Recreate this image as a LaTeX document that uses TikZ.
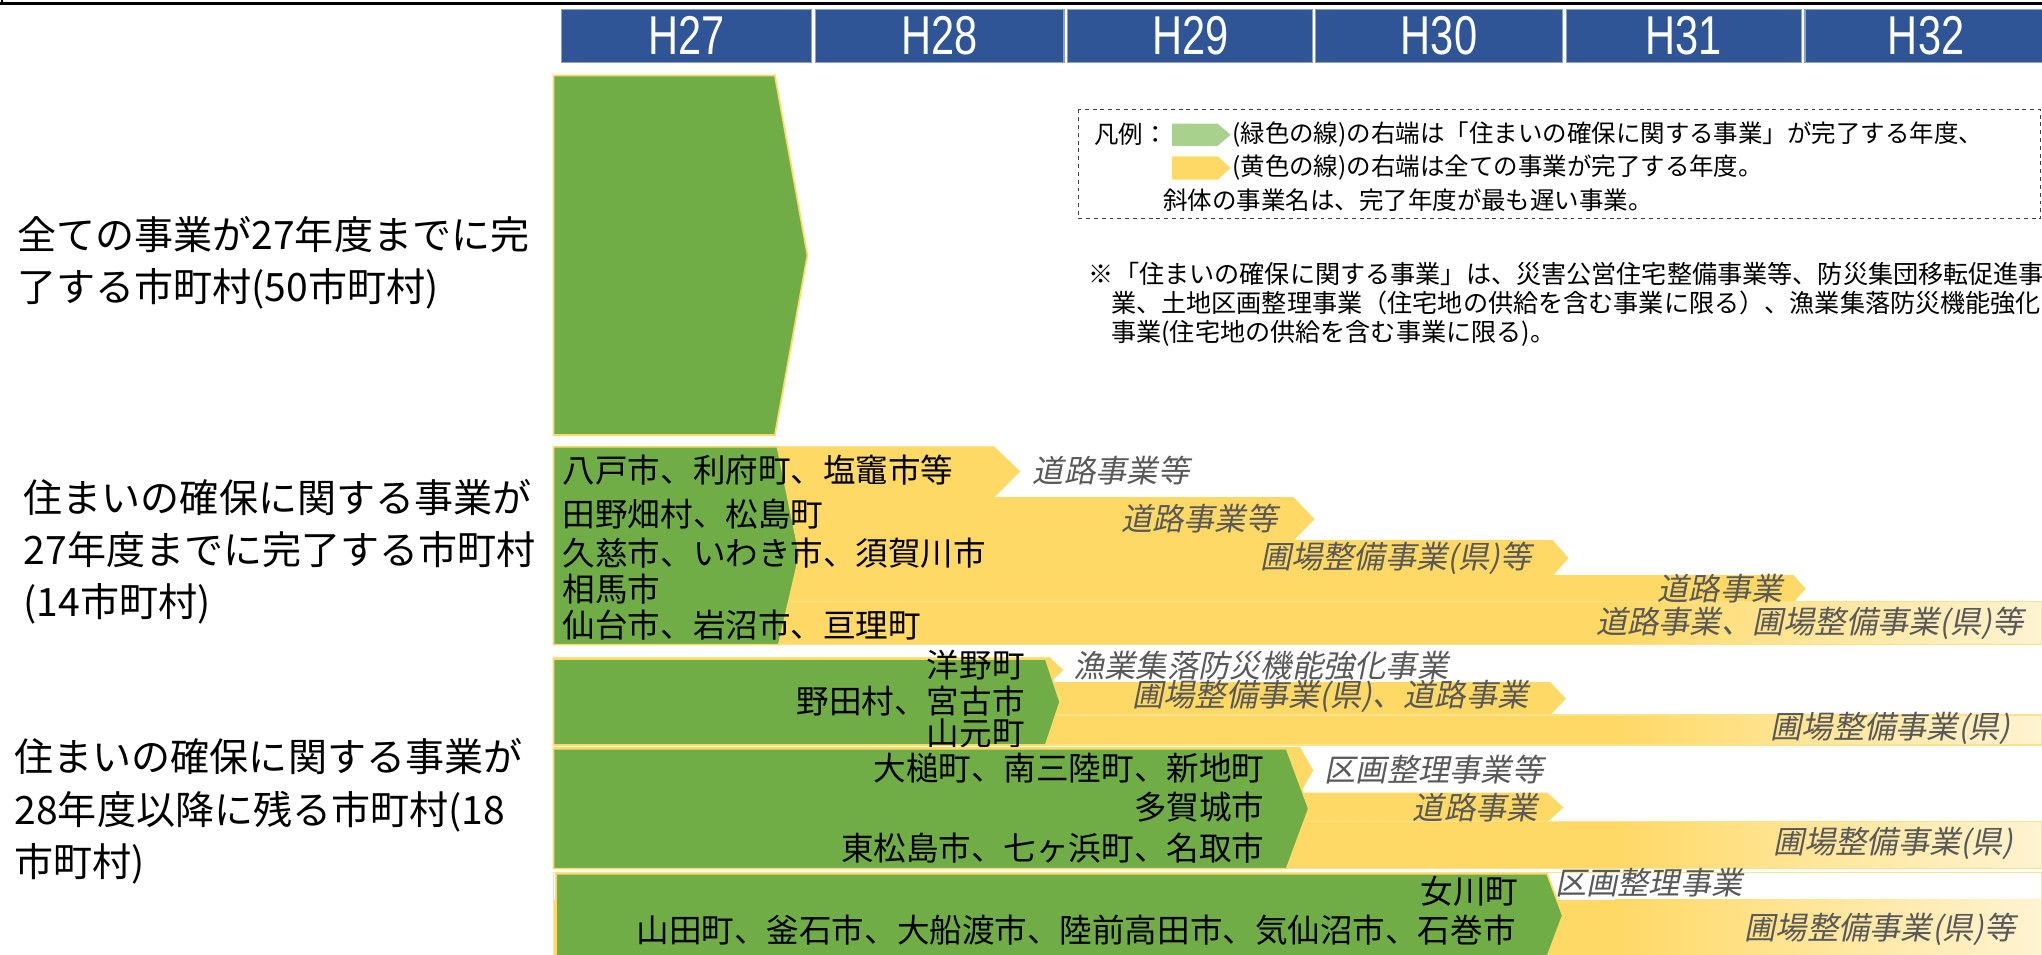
\documentclass[tikz,border=0pt]{standalone}
\usepackage{fontspec}
\setmainfont{Noto Sans CJK JP}
\newfontfamily\jpslant{Noto Sans CJK JP}[FakeSlant=0.2]
\newfontfamily\yearfont{Liberation Sans}[FakeStretch=0.76]
\definecolor{barGreen}{HTML}{70AD47}
\definecolor{barGold}{HTML}{FFD966}
\definecolor{barFade}{HTML}{FFF4D2}
\definecolor{barEdge}{HTML}{FFE28A}
\definecolor{headBlue}{HTML}{2F5597}
\definecolor{keyGreen}{HTML}{A9D18E}
\definecolor{projGray}{HTML}{595959}

\begin{document}
\begin{tikzpicture}[x=1pt,y=-1pt,
  rowlbl/.style={anchor=west,align=left,inner sep=0pt,font=\fontsize{30}{40}\selectfont},
  city/.style={inner sep=0pt,font=\fontsize{25}{25}\selectfont},
  proj/.style={inner sep=0pt,text=projGray,font=\jpslant\fontsize{24}{24}\selectfont},
  legtxt/.style={anchor=west,inner sep=0pt,font=\fontsize{18.8}{18.8}\selectfont},
  yearbox/.style={fill=headBlue,draw=headBlue!55!white,line width=0.8pt,text=white,inner sep=0pt,
    minimum height=41pt,font=\yearfont\fontsize{42}{42}\selectfont},
  gshape/.style={fill=barGreen,draw=barGold,line width=1.3pt},
  yshape/.style={fill=barGold,draw=barGold,line width=0.6pt},
  fadeline/.style={draw=barEdge,line width=1pt}]
\useasboundingbox (0,0) rectangle (1568,733.3);

% top rule
\draw[line width=2pt] (0,2.8) -- (1568,2.8);
\draw[line width=1.5pt] (1.2,0) -- (1.2,2.8);

% year header
\foreach \xa/\xb/\yr in {431/623/H27,626/817/H28,820/1008/H29,1010/1200/H30,1203/1383/H31,1386/1572/H32}
  \node[yearbox,minimum width={(\xb-\xa)*1pt}] (\yr) at ({(\xa+\xb)/2},27.5) {\yr};

% group 1
\filldraw[gshape] (425,58) -- (595,58) -- (620,196) -- (595,334) -- (425,334) -- cycle;
\node[rowlbl] (grp1) at (13,201.5) {全ての事業が27年度までに完\\了する市町村(50市町村)};

% group 2
\filldraw[yshape] (425,343) -- (763,343) -- (783,362) -- (763,382) -- (425,382) -- cycle;
\filldraw[yshape] (425,382) -- (993,382) -- (1009,398.5) -- (993,415) -- (425,415) -- cycle;
\filldraw[yshape] (425,415) -- (1192,415) -- (1204,428.5) -- (1192,442) -- (425,442) -- cycle;
\filldraw[yshape] (425,442) -- (1377,442) -- (1386,452) -- (1377,462) -- (425,462) -- cycle;
\fill[barGold] (425,462) rectangle (1240,495);
\shade[left color=barGold,right color=barFade] (1240,462) rectangle (1568,495);
\draw[fadeline] (425,462) rectangle (1567.5,495);
\filldraw[gshape] (425,343) -- (597,343) -- (614,426) -- (598,495) -- (425,495) -- cycle;
\node[rowlbl] (grp2) at (18,424) {住まいの確保に関する事業が\\27年度までに完了する市町村\\(14市町村)};
\node[city,anchor=west] (hachinohe) at (432,361) {八戸市、利府町、塩竈市等};
\node[city,anchor=west] (tanohata) at (432,395) {田野畑村、松島町};
\node[city,anchor=west] (kuji) at (432,425) {久慈市、いわき市、須賀川市};
\node[city,anchor=west] (soma) at (432,452) {相馬市};
\node[city,anchor=west] (sendai) at (432,480) {仙台市、岩沼市、亘理町};
\node[proj,anchor=west] (p2a) at (793,361) {道路事業等};
\node[proj,anchor=east] (p2b) at (981,398) {道路事業等};
\node[proj,anchor=east] (p2c) at (1176,429) {圃場整備事業(県)等};
\node[proj,anchor=east] (p2d) at (1369,452) {道路事業};
\node[proj,anchor=east] (p2e) at (1554,479) {道路事業、圃場整備事業(県)等};

% group 3, first band
\filldraw[yshape] (425,505) -- (806,505) -- (816,514.5) -- (806,524) -- (425,524) -- cycle;
\filldraw[yshape] (425,524) -- (1190,524) -- (1202,536.5) -- (1190,549) -- (425,549) -- cycle;
\fill[barGold] (425,549) rectangle (1240,572);
\shade[left color=barGold,right color=barFade] (1240,549) rectangle (1568,572);
\draw[fadeline] (425,549) rectangle (1567.5,572);
\filldraw[gshape] (425,506) -- (803,506) -- (814,539) -- (803,572) -- (425,572) -- cycle;
\node[city,anchor=east] (hirono) at (787,511) {洋野町};
\node[city,anchor=east] (noda) at (787,538) {野田村、宮古市};
\node[city,anchor=east] (yamamoto) at (787,563) {山元町};
\node[proj,anchor=west] (p3a) at (824,511) {漁業集落防災機能強化事業};
\node[proj,anchor=east] (p3b) at (1174,535) {圃場整備事業(県)、道路事業};
\node[proj,anchor=east] (p3c) at (1544,559) {圃場整備事業(県)};

% group 3, second band
\filldraw[yshape] (425,574) -- (998,574) -- (1008,591.5) -- (998,609) -- (425,609) -- cycle;
\filldraw[yshape] (425,609) -- (1188,609) -- (1200,620) -- (1188,631) -- (425,631) -- cycle;
\fill[barGold] (425,631) rectangle (1240,667);
\shade[left color=barGold,right color=barFade] (1240,631) rectangle (1568,667);
\draw[fadeline] (425,631) rectangle (1567.5,667);
\filldraw[gshape] (425,575) -- (988,575) -- (1005,621) -- (988,667) -- (425,667) -- cycle;
\node[city,anchor=east] (otsuchi) at (971,590) {大槌町、南三陸町、新地町};
\node[city,anchor=east] (tagajo) at (971,620) {多賀城市};
\node[city,anchor=east] (higashimatsu) at (971,651) {東松島市、七ヶ浜町、名取市};
\node[proj,anchor=west] (p3d) at (1017,591) {区画整理事業等};
\node[proj,anchor=east] (p3e) at (1181,620) {道路事業};
\node[proj,anchor=east] (p3f) at (1546,648) {圃場整備事業(県)};

% group 3, third band
\fill[barGold] (425,691) rectangle (1240,740);
\shade[left color=barGold,right color=barFade] (1240,691) rectangle (1568,740);
\draw[fadeline] (425,670) rectangle (1567.5,740);
\filldraw[gshape] (427,671) -- (1188,671) -- (1200,703) -- (1188,735) -- (427,735) -- cycle;
\node[city,anchor=east] (onagawa) at (1166,684) {女川町};
\node[city,anchor=east] (yamada) at (1164,714) {山田町、釜石市、大船渡市、陸前高田市、気仙沼市、石巻市};
\node[proj,anchor=west] (p3g) at (1194,678) {区画整理事業};
\node[proj,anchor=east] (p3h) at (1548,714) {圃場整備事業(県)等};
\node[rowlbl] (grp3) at (11,623) {住まいの確保に関する事業が\\28年度以降に残る市町村(18\\市町村)};

% legend
\draw[dashed,line width=0.8pt,black!75] (828,84) rectangle (1567,168);
\node[legtxt] (legkey) at (840,103) {凡例：};
\fill[keyGreen] (900,95) -- (935,95) -- (945,103.5) -- (935,112) -- (900,112) -- cycle;
\fill[barGold] (900,120) -- (935,120) -- (945,129) -- (935,138) -- (900,138) -- cycle;
\node[legtxt] (leg1) at (946,103) {(緑色の線)の右端は「住まいの確保に関する事業」が完了する年度、};
\node[legtxt] (leg2) at (946,129) {(黄色の線)の右端は全ての事業が完了する年度。};
\node[legtxt] (leg3) at (893,154) {斜体の事業名は、完了年度が最も遅い事業。};

% note
\node[legtxt,font=\fontsize{19.3}{19.3}\selectfont] (note1) at (836,210) {※「住まいの確保に関する事業」は、災害公営住宅整備事業等、防災集団移転促進事};
\node[legtxt,font=\fontsize{19.3}{19.3}\selectfont] (note2) at (853,233) {業、土地区画整理事業（住宅地の供給を含む事業に限る）、漁業集落防災機能強化};
\node[legtxt,font=\fontsize{19.3}{19.3}\selectfont] (note3) at (853,256) {事業(住宅地の供給を含む事業に限る)。};
\end{tikzpicture}
\end{document}
